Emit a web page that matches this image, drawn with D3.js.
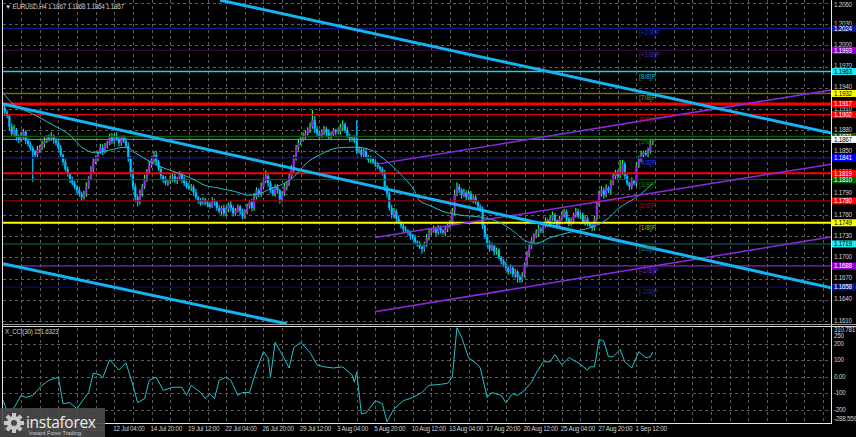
<!DOCTYPE html>
<html lang="en">
<head>
    <meta charset="UTF-8">
    <title>EURUSD H4 with Murrey levels and CCI</title>
    <script src="https://d3js.org/d3.v7.min.js"></script>
    <style>
        body { margin: 0; background: #000; }
        text { font-family: "Liberation Sans", Arial, sans-serif; }
        .grid { stroke: #5c5c5c; stroke-width: 1px; stroke-dasharray: 3,3; shape-rendering: crispEdges; }
        .axis-label { fill: #cfcfcf; font-size: 6.3px; letter-spacing: -0.25px; }
    </style>
</head>
<body>
    <script>
        // ---- data (prices in pips above 1.0000, e.g. 1867 -> 1.1867) ----
        var firstOpen = 1918;
        var closes = [
            1912,1905,1900,1885,1875,1880,1870,1866, 1872,1878,1865,1860,1855,1850,1845,1852,
            1855,1860,1864,1870,1868,1872,1866,1862, 1855,1845,1835,1825,1818,1810,1805,1800,
            1795,1790,1785,1790,1800,1812,1825,1835, 1840,1848,1855,1850,1858,1862,1870,1865,
            1872,1868,1862,1870,1865,1858,1840,1820, 1800,1785,1778,1790,1800,1812,1822,1830,
            1838,1845,1835,1825,1815,1810,1805,1808, 1812,1815,1808,1812,1818,1810,1805,1800,
            1798,1800,1792,1785,1780,1776,1782,1778, 1775,1772,1780,1778,1770,1765,1770,1762,
            1768,1775,1770,1762,1766,1772,1765,1758, 1765,1772,1778,1770,1785,1795,1790,1800,
            1808,1815,1805,1795,1790,1800,1795,1782, 1790,1800,1805,1815,1825,1840,1855,1862,
            1868,1872,1876,1880,1885,1895,1882,1875, 1872,1878,1882,1876,1870,1874,1880,1878,
            1878,1884,1888,1880,1872,1868,1870,1865, 1850,1852,1845,1850,1842,1838,1840,1835,
            1832,1828,1825,1820,1800,1790,1770,1760, 1765,1755,1750,1745,1740,1738,1735,1730,
            1728,1722,1720,1715,1712,1718,1728,1735, 1738,1740,1735,1742,1738,1735,1740,1745,
            1750,1765,1790,1800,1795,1788,1792,1785, 1790,1782,1785,1778,1772,1768,1745,1730,
            1720,1712,1716,1708,1710,1700,1695,1690, 1685,1680,1685,1676,1680,1672,1668,1675,
            1690,1705,1715,1725,1730,1735,1740,1738, 1745,1752,1748,1755,1760,1752,1745,1755,
            1760,1765,1755,1748,1752,1760,1765,1758, 1760,1750,1755,1748,1745,1742,1755,1775,
            1790,1795,1788,1798,1795,1805,1815,1820, 1815,1822,1832,1815,1805,1800,1808,1805,
            1830,1840,1845,1848,1846,1850,1862,1867
        ];
        // wick lengths in pips above / below the candle body
        var upWick = [
            6,3,4,2,5,8,3,4, 5,4,2,3,4,3,2,6, 4,5,6,3,4,5,2,3, 3,4,2,5,3,2,4,3,
            2,5,3,4,6,3,4,5, 4,3,6,5,4,3,5,6, 3,5,4,2,3,4,5,3, 4,5,3,6,4,5,3,6,
            5,4,6,3,4,2,5,3, 4,3,5,2,4,3,5,3, 6,4,3,5,2,4,3,2, 3,4,5,3,2,4,3,5,
            4,3,5,3,4,3,2,4, 3,4,3,5,6,4,3,6, 5,8,4,3,5,3,4,2, 4,5,3,4,6,5,4,6,
            4,5,3,4,6,14,5,4, 5,3,4,3,5,4,3,2, 4,5,6,3,4,3,2,3, 29,5,3,4,5,3,4,2,
            4,3,2,3,4,2,3,4, 5,3,4,2,3,4,2,3, 3,4,2,3,2,4,5,6, 4,5,3,4,3,2,4,3,
            3,5,6,6,4,3,5,3, 5,4,3,4,2,3,4,2, 3,4,5,2,4,3,2,3, 4,3,5,3,4,2,3,4,
            3,4,5,3,4,5,6,3, 4,5,3,4,5,3,2,4, 5,4,3,2,4,3,5,4, 3,4,5,3,2,3,4,5,
            5,6,4,5,3,6,5,4, 4,16,6,3,4,2,5,3, 5,4,6,3,4,5,6,1
        ];
        var downWick = [
            4,5,3,6,4,3,5,4, 3,4,5,3,4,43,3,4, 4,3,5,2,4,3,5,4, 3,4,5,3,4,5,3,4,
            5,4,6,3,4,3,2,4, 3,4,2,5,3,4,3,5, 4,3,5,4,3,4,5,6, 5,7,6,3,4,3,5,4,
            3,4,5,3,4,5,3,4, 4,5,3,4,3,5,4,3, 3,4,5,3,4,3,2,5, 4,3,2,5,4,3,5,4,
            3,4,5,4,3,2,5,4, 3,4,3,5,4,3,5,4, 4,3,5,4,3,4,5,6, 4,3,5,4,3,4,3,4,
            3,4,5,3,4,3,6,4, 4,3,5,4,3,4,3,5, 3,4,5,4,3,5,4,3, 4,3,5,4,3,4,5,3,
            4,3,5,4,6,5,4,5, 4,5,3,4,5,3,4,5, 3,4,5,3,7,4,3,4, 4,3,5,3,4,3,5,4,
            3,4,5,3,4,5,3,4, 3,4,5,3,4,3,5,4, 5,4,3,5,4,3,5,4, 4,5,3,4,5,8,4,3,
            3,4,5,3,4,3,5,4, 4,3,5,4,3,5,4,3, 3,4,5,4,3,5,4,3, 4,3,5,4,3,5,4,3,
            3,4,5,3,4,5,3,4, 4,3,5,4,3,5,4,3, 4,3,5,4,3,4,3,3
        ];

        // moving average, read at some bars
        var maBars = [0,4,13,23,29,34,40,46,53,57,62,68,74,81,87,93,100,106,110,115,121,126,130,136,144,151,158,163,171,177,179,183,190,196,205,213,220,224,229,235,244,252,259,265,270,274,279];
        var maVals = [1934,1919,1903,1885,1873,1856,1848,1852,1856,1848,1838,1828,1821,1812,1802,1798,1793,1788,1790,1797,1805,1817,1832,1845,1855,1856,1852,1841,1817,1793,1780,1774,1764,1760,1757,1750,1735,1724,1720,1728,1736,1742,1753,1771,1781,1790,1805];

        // CCI(30)
        var cciBars = [0,2,5,8,10,13,17,20,24,26,29,32,35,37,39,42,43,46,50,53,56,58,61,63,66,69,73,77,79,81,85,87,89,91,93,96,98,101,103,106,109,112,114,115,117,120,123,125,128,132,135,138,142,146,150,151,152,154,156,160,163,165,168,172,176,180,183,188,191,193,195,197,200,204,205,208,210,214,216,219,221,224,227,229,232,235,237,240,243,247,251,252,254,256,258,260,262,265,267,270,273,276,278,279];
        var cciVals = [-135,-208,-189,-114,-126,-114,-52,-21,-2,-164,-158,-196,-133,-96,23,11,-8,104,42,86,-52,-158,-133,-21,-2,-83,-64,-64,-114,-52,-96,-133,-102,-133,-21,-2,-21,-114,-96,-96,42,154,117,-2,211,136,54,179,211,148,73,61,54,61,11,-33,29,-227,-221,-146,-164,-275,-196,-146,-127,-96,-52,-46,-39,-2,300,242,117,73,54,-127,-96,-114,-158,-102,-114,-83,-33,23,92,92,136,73,117,86,42,61,61,229,217,123,123,167,92,54,154,117,123,152];

        // Murrey math levels
        var levelTags = ["[+2/8]P","[+1/8]P","[8/8]P","[7/8]P","[6/8]P","[5/8]P","[4/8]P","[3/8]P","[2/8]P","[1/8]P","[0/8]P","[-1/8]P","[-2/8]P"];
        var levelPrices = [1.2024,1.1993,1.1963,1.1932,1.1902,1.1871,1.1841,1.1810,1.1780,1.1749,1.1719,1.1688,1.1658];
        var redLevels = [1.1917, 1.1819];
        var lastPrice = 1.1867;

        // trend lines as [bar, price] anchors
        var blueLines = [
            [[93.4, 1.2064], [355.5, 1.1876]],
            [[0.3, 1.1917], [355.5, 1.1657]],
            [[0.3, 1.1691], [122, 1.1606]]
        ];
        var purpleLines = [
            [[160.7, 1.1832], [355.5, 1.1937]],
            [[159.8, 1.1728], [355.5, 1.1832]],
            [[159.8, 1.1623], [355.5, 1.1729]]
        ];

        var priceTicks = [1.2060,1.2030,1.2000,1.1970,1.1940,1.1910,1.1880,1.1850,1.1820,1.1790,1.1760,1.1730,1.1700,1.1670,1.1640,1.1610];
        var cciTicks = [200, 100, 0, -100, -200];
        var cciTickLabels = ["310.7817","250","200","100","0.00","-100","-200","-288.5597"];
        var cciTickValues = [310.7817, 250, 200, 100, 0, -100, -200, -288.5597];
        var dateBars = [0,16,32,48,64,80,96,112,128,144,160,176,192,208,224,240,256,272];
        var dateLabels = ["30 Jun 2021","2 Jul 20:00","7 Jul 12:00","12 Jul 04:00","14 Jul 20:00","19 Jul 12:00","22 Jul 04:00","26 Jul 20:00","29 Jul 12:00","3 Aug 04:00","5 Aug 20:00","10 Aug 12:00","13 Aug 04:00","17 Aug 20:00","20 Aug 12:00","25 Aug 04:00","27 Aug 20:00","1 Sep 12:00"];

        // ---- styles for the levels ----
        var lineColors = ["#0b1a8c","#2e0d48","#1fd3e6","#6e6e12","#e00000","#0b5e0b","#111178","#0b560b","#960000","#ffff00","#0a4747","#8424c8","#0b0b5a"];
        var tagColors  = ["#2030b0","#5a2aa0","#1fb8c8","#9a9a20","#c80000","#1a7a1a","#2a40e0","#1a7a1a","#c00000","#b0b000","#1a8a8a","#8a2ad0","#2030a0"];
        var boxColors  = ["#0a1890","#9400d3","#20e8f5","#ffff00","#ff0000","#006400","#0000ff","#006400","#ff0000","#ffff00","#20e8f5","#9400d3","#0a1890"];

        var W = 856, H = 437;
        function P(n) { return 1 + n / 10000; }

        var x = d3.scaleLinear().domain([0, 355]).range([2.4, 2.4 + 355 * 2.331]);
        var y = d3.scaleLinear().domain([1.1610, 1.2060]).range([321, 3]);
        var yc = d3.scaleLinear().domain([-288.5597, 310.7817]).range([424, 326]);

        var svg = d3.select("body").append("svg")
            .attr("width", W)
            .attr("height", H)
            .style("display", "block");

        svg.append("rect").attr("width", W).attr("height", H).attr("fill", "#000");

        var defs = svg.append("defs");
        defs.append("clipPath").attr("id", "mainClip").append("rect")
            .attr("x", 3).attr("y", 0).attr("width", 828).attr("height", 324);
        defs.append("clipPath").attr("id", "cciClip").append("rect")
            .attr("x", 3).attr("y", 327).attr("width", 828).attr("height", 97);

        // grid
        var vBars = d3.range(8, 356, 8);
        var grid = svg.append("g");
        grid.selectAll(".vg1").data(vBars).enter().append("line")
            .attr("class", "grid")
            .attr("x1", function(d) { return Math.round(x(d)) + 0.5; })
            .attr("x2", function(d) { return Math.round(x(d)) + 0.5; })
            .attr("y1", 0).attr("y2", 323);
        grid.selectAll(".vg2").data(vBars).enter().append("line")
            .attr("class", "grid")
            .attr("x1", function(d) { return Math.round(x(d)) + 0.5; })
            .attr("x2", function(d) { return Math.round(x(d)) + 0.5; })
            .attr("y1", 328).attr("y2", 423);
        grid.selectAll(".hg1").data(priceTicks).enter().append("line")
            .attr("class", "grid")
            .attr("x1", 3).attr("x2", 831)
            .attr("y1", function(d) { return Math.round(y(d)) + 0.5; })
            .attr("y2", function(d) { return Math.round(y(d)) + 0.5; });
        grid.selectAll(".hg2").data(cciTicks).enter().append("line")
            .attr("class", "grid")
            .attr("x1", 3).attr("x2", 831)
            .attr("y1", function(d) { return Math.round(yc(d)) + 0.5; })
            .attr("y2", function(d) { return Math.round(yc(d)) + 0.5; });

        var main = svg.append("g").attr("clip-path", "url(#mainClip)");

        // candles
        var candles = closes.map(function(c, i) {
            var o = i === 0 ? firstOpen : closes[i - 1];
            return { i: i, o: o, c: c, h: Math.max(o, c) + upWick[i], l: Math.min(o, c) - downWick[i] };
        });

        var cg = main.append("g");
        cg.selectAll(".wick").data(candles).enter().append("line")
            .attr("x1", function(d) { return x(d.i); })
            .attr("x2", function(d) { return x(d.i); })
            .attr("y1", function(d) { return y(P(d.h)); })
            .attr("y2", function(d) { return y(P(d.l)); })
            .attr("stroke", function(d) { return d.c >= d.o ? "#22ff22" : "#00bfff"; })
            .attr("stroke-width", 1.2);
        cg.selectAll(".body").data(candles).enter().append("rect")
            .attr("x", function(d) { return x(d.i) - 1.1; })
            .attr("width", 2.2)
            .attr("y", function(d) { return y(P(Math.max(d.o, d.c))); })
            .attr("height", function(d) { return Math.max(1, y(P(Math.min(d.o, d.c))) - y(P(Math.max(d.o, d.c)))); })
            .attr("fill", function(d) { return d.c >= d.o ? "#a020f0" : "#00bfff"; });

        // horizontal levels
        main.selectAll(".lvl").data(levelPrices).enter().append("line")
            .attr("x1", 3).attr("x2", 831)
            .attr("y1", function(d) { return y(d); })
            .attr("y2", function(d) { return y(d); })
            .attr("stroke", function(d, i) { return lineColors[i]; })
            .attr("stroke-width", function(d, i) { return i === 9 ? 2 : 1.4; });
        main.append("line")
            .attr("x1", 3).attr("x2", 831)
            .attr("y1", y(lastPrice)).attr("y2", y(lastPrice))
            .attr("stroke", "#8c8c8c").attr("stroke-width", 1);
        main.selectAll(".red").data(redLevels).enter().append("line")
            .attr("x1", 3).attr("x2", 831)
            .attr("y1", function(d) { return y(d); })
            .attr("y2", function(d) { return y(d); })
            .attr("stroke", "#ff0000")
            .attr("stroke-width", function(d, i) { return i === 0 ? 3 : 2; });

        // moving average
        var maLine = d3.line()
            .x(function(d) { return x(d[0]); })
            .y(function(d) { return y(P(d[1])); })
            .curve(d3.curveMonotoneX);
        main.append("path")
            .datum(maBars.map(function(b, i) { return [b, maVals[i]]; }))
            .attr("d", maLine)
            .attr("fill", "none")
            .attr("stroke", "#1fc2ca")
            .attr("stroke-width", 1);

        // trend lines
        var seg = d3.line()
            .x(function(d) { return x(d[0]); })
            .y(function(d) { return y(d[1]); });
        main.selectAll(".pl").data(purpleLines).enter().append("path")
            .attr("d", seg)
            .attr("stroke", "#8a2be2").attr("stroke-width", 1.5).attr("fill", "none");
        main.selectAll(".bl").data(blueLines).enter().append("path")
            .attr("d", seg)
            .attr("stroke", "#12b4f2").attr("stroke-width", 3).attr("fill", "none");

        // Murrey tags
        main.selectAll(".tag").data(levelPrices).enter().append("text")
            .attr("x", 639)
            .attr("y", function(d) { return y(d) + 7; })
            .attr("fill", function(d, i) { return tagColors[i]; })
            .style("font-size", "6.5px")
            .text(function(d, i) { return levelTags[i]; });

        // CCI panel
        var cciLine = d3.line()
            .x(function(d) { return x(d[0]); })
            .y(function(d) { return yc(d[1]); });
        svg.append("g").attr("clip-path", "url(#cciClip)")
            .append("path")
            .datum(cciBars.map(function(b, i) { return [b, cciVals[i]]; }))
            .attr("d", cciLine)
            .attr("fill", "none")
            .attr("stroke", "#20c4cc")
            .attr("stroke-width", 1);

        // frame
        var frame = svg.append("g").attr("stroke", "#e8e8e8").attr("stroke-width", 1);
        frame.append("line").attr("x1", 2.5).attr("x2", 2.5).attr("y1", 0).attr("y2", 424);
        frame.append("line").attr("x1", 831.5).attr("x2", 831.5).attr("y1", 0).attr("y2", 424);
        frame.append("line").attr("x1", 2).attr("x2", 832).attr("y1", 423.5).attr("y2", 423.5);
        svg.append("line").attr("x1", 2).attr("x2", 856).attr("y1", 324.5).attr("y2", 324.5)
            .attr("stroke", "#9a9a9a");
        svg.append("line").attr("x1", 2).attr("x2", 856).attr("y1", 326.5).attr("y2", 326.5)
            .attr("stroke", "#d8d8d8");

        // price axis labels
        svg.selectAll(".pt").data(priceTicks).enter().append("text")
            .attr("class", "axis-label")
            .attr("x", 834)
            .attr("y", function(d) { return Math.max(7, y(d) + 1.5); })
            .text(function(d) { return d.toFixed(4); });

        // level price boxes
        function box(price, fill, textFill) {
            var yy = y(price);
            svg.append("rect")
                .attr("x", 832).attr("y", yy - 3.5).attr("width", 24).attr("height", 7)
                .attr("fill", fill);
            svg.append("text")
                .attr("class", "axis-label")
                .attr("x", 834).attr("y", yy + 2.2)
                .style("fill", textFill)
                .text(price.toFixed(4));
        }
        levelPrices.forEach(function(p, i) {
            var light = boxColors[i] === "#ffff00" || boxColors[i] === "#20e8f5";
            box(p, boxColors[i], light ? "#000" : "#fff");
        });
        redLevels.forEach(function(p) { box(p, "#ff0000", "#fff"); });
        box(lastPrice, "#ffffff", "#000");

        // CCI axis labels
        svg.selectAll(".ct").data(cciTickValues).enter().append("text")
            .attr("class", "axis-label")
            .attr("x", 834)
            .attr("y", function(d, i) { return i === 0 ? 332 : (i === cciTickValues.length - 1 ? 421 : yc(d) + 2); })
            .text(function(d, i) { return cciTickLabels[i]; });

        // date labels
        svg.selectAll(".dt").data(dateBars).enter().append("text")
            .attr("class", "axis-label")
            .attr("x", function(d) { return x(d) - 1; })
            .attr("y", 431)
            .text(function(d, i) { return dateLabels[i]; });

        // titles
        svg.append("text").attr("class", "axis-label")
            .attr("x", 5).attr("y", 9)
            .text("\u25BC EURUSD,H4  1.1867 1.1868 1.1864 1.1867");
        svg.append("text").attr("class", "axis-label")
            .attr("x", 5).attr("y", 334)
            .text("X_CCI(30) 151.6323");

        // logo
        var logo = svg.append("g");
        logo.append("rect").attr("x", 0).attr("y", 408).attr("width", 105).attr("height", 29)
            .attr("fill", "#4a4a4a").attr("opacity", 0.9);
        var gear = logo.append("g").attr("transform", "translate(14,423)");
        gear.selectAll("rect").data(d3.range(8)).enter().append("rect")
            .attr("x", -2).attr("y", -10).attr("width", 4).attr("height", 5)
            .attr("fill", "#c8c8c8")
            .attr("transform", function(d) { return "rotate(" + d * 45 + ")"; });
        gear.append("circle").attr("r", 7).attr("fill", "#c8c8c8");
        gear.append("circle").attr("r", 3).attr("fill", "#4a4a4a");
        logo.append("text").attr("x", 26).attr("y", 428)
            .attr("fill", "#ececec")
            .style("font-family", "'Open Sans', sans-serif")
            .style("font-size", "15.5px")
            .style("letter-spacing", "-0.3px")
            .text("instaforex");
        logo.append("text").attr("x", 29).attr("y", 435)
            .attr("fill", "#cfcfcf")
            .style("font-size", "5.5px")
            .text("Instant Forex Trading");
    </script>
</body>
</html>
